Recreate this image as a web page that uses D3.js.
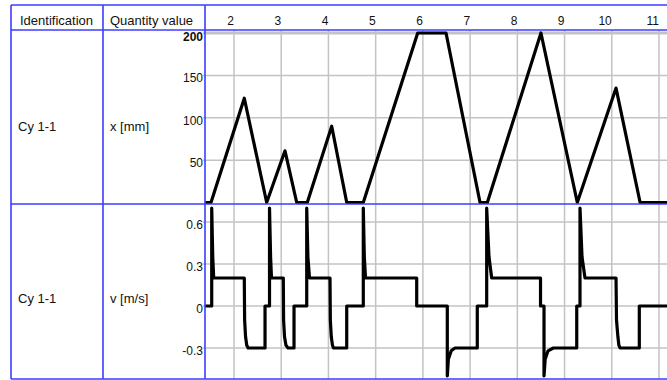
<!DOCTYPE html>
<html><head><meta charset="utf-8">
<script src="https://cdn.jsdelivr.net/npm/d3@7"></script>
<style>html,body{margin:0;padding:0;background:#fff;}svg{display:block;}</style>
</head><body>
<svg id="c" width="667" height="380"></svg>
<script>
// ---- data ----
const headerCols = ["Identification", "Quantity value"];
const rowIds = ["Cy 1-1", "Cy 1-1"];
const rowQuantities = ["x [mm]", "v [m/s]"];
const xTicks = [2, 3, 4, 5, 6, 7, 8, 9, 10, 11];
const posTicks = [50, 100, 150, 200];
const velTicks = [-0.3, 0, 0.3, 0.6];
const velTickLabels = ["-0.3", "0", "0.3", "0.6"];

// position x [mm] : [time, value]
const posT = [1.386, 1.513, 2.218, 2.692, 3.080, 3.328, 3.552, 4.069, 4.387, 4.738, 5.890, 6.490, 7.210, 7.365, 8.500, 9.270, 10.090, 10.600, 11.300];
const posV = [0, 0, 123, 0, 61, 0, 0, 90, 0, 0, 200, 200, 0, 0, 200, 0, 135, 0, 0];

// velocity v [m/s]
const velT = [1.386,1.528,1.528,1.55,1.57,
  2.218,2.225,2.245,2.27,2.30,
  2.657,2.657,2.752,2.752,2.775,2.794,
  3.044,3.05,3.07,3.10,3.144,
  3.271,3.271,3.540,3.540,3.565,3.599,
  4.033,4.04,4.06,4.085,4.107,
  4.387,4.387,4.738,4.738,4.76,4.785,
  5.869,5.869,6.517,6.517,6.54,6.6,6.68,
  7.152,7.152,7.351,7.351,7.40,7.457,
  8.491,8.491,8.565,8.565,8.59,8.65,8.762,
  9.258,9.258,9.327,9.327,9.37,9.433,
  10.09,10.10,10.13,10.15,10.175,
  10.583,10.583,11.3];
const velV = [0,0,0.7,0.35,0.2,
  0.2,-0.1,-0.22,-0.28,-0.3,
  -0.3,0,0,0.7,0.35,0.2,
  0.2,-0.1,-0.22,-0.28,-0.3,
  -0.3,0,0,0.7,0.35,0.2,
  0.2,-0.1,-0.22,-0.28,-0.3,
  -0.3,0,0,0.7,0.35,0.2,
  0.2,0,0,-0.5,-0.38,-0.32,-0.3,
  -0.3,0,0,0.7,0.35,0.2,
  0.2,0,0,-0.5,-0.38,-0.32,-0.3,
  -0.3,0,0,0.7,0.35,0.2,
  0.2,-0.1,-0.22,-0.28,-0.3,
  -0.3,0,0];

// ---- layout ----
const BLUE = "#3d3dff", GRID = "#c3c3c3";
const L = 11, C1 = 103, C2 = 205, R = 667;
const T = 5, H = 30, S = 204, B = 379;

const svg = d3.select("#c");
const x = d3.scaleLinear().domain([2, 11]).range([234, 659]);
const yPos = d3.scaleLinear().domain([0, 200]).range([202.5, 33]);
const yVel = d3.scaleLinear().domain([-0.3, 0.6]).range([348, 222]);

svg.append("defs").append("clipPath").attr("id", "pc")
  .append("rect").attr("x", C2).attr("y", H).attr("width", R - C2).attr("height", B - H);

const grid = svg.append("g");
// vertical grid lines
grid.selectAll("line.v").data(xTicks).enter().append("line")
  .attr("x1", d => x(d)).attr("x2", d => x(d)).attr("y1", H).attr("y2", B)
  .attr("stroke", GRID).attr("stroke-width", 1.5);
// horizontal grids
grid.selectAll("line.hp").data(posTicks).enter().append("line")
  .attr("x1", C2 - 2).attr("x2", R).attr("y1", d => yPos(d)).attr("y2", d => yPos(d))
  .attr("stroke", GRID).attr("stroke-width", d => d === 200 ? 3 : 1.5);
grid.selectAll("line.hv").data(velTicks).enter().append("line")
  .attr("x1", C2 - 2).attr("x2", R).attr("y1", d => yVel(d)).attr("y2", d => yVel(d))
  .attr("stroke", GRID).attr("stroke-width", 1.5);

// data lines
const plot = svg.append("g").attr("clip-path", "url(#pc)");
const posData = posT.map((t, i) => [t, posV[i]]);
const velData = velT.map((t, i) => [t, velV[i]]);
plot.append("path").datum(posData)
  .attr("d", d3.line().x(d => x(d[0])).y(d => yPos(d[1])))
  .attr("fill", "none").attr("stroke", "#000").attr("stroke-width", 3.2).attr("stroke-linejoin", "round");
plot.append("path").datum(velData)
  .attr("d", d3.line().x(d => x(d[0])).y(d => yVel(d[1])))
  .attr("fill", "none").attr("stroke", "#000").attr("stroke-width", 3.2).attr("stroke-linejoin", "round");

// table lines
const tl = svg.append("g").attr("stroke", BLUE).attr("stroke-width", 1.6);
[T, H, S, B].forEach(yy => tl.append("line").attr("x1", L).attr("x2", R).attr("y1", yy).attr("y2", yy));
[L, C1, C2].forEach(xx => tl.append("line").attr("x1", xx).attr("x2", xx).attr("y1", T).attr("y2", B));

// texts
const txt = svg.append("g").attr("font-family", "Liberation Sans, Arial, sans-serif").attr("fill", "#111");
txt.append("text").attr("x", 20).attr("y", 25).attr("font-size", 13).text(headerCols[0]);
txt.append("text").attr("x", 110).attr("y", 25).attr("font-size", 13).text(headerCols[1]);
txt.selectAll("text.xt").data(xTicks).enter().append("text")
  .attr("x", d => x(d)).attr("y", 25).attr("text-anchor", "end").attr("font-size", 12).text(d => d);

const rowBase = [130.5, 303];
rowIds.forEach((s, i) => {
  txt.append("text").attr("x", 18).attr("y", rowBase[i]).attr("font-size", 13).text(s);
  txt.append("text").attr("x", 110).attr("y", rowBase[i]).attr("font-size", 13).text(rowQuantities[i]);
});

txt.selectAll("text.yp").data(posTicks).enter().append("text")
  .attr("x", 203).attr("y", d => yPos(d) + (d === 200 ? 8 : 7)).attr("text-anchor", "end")
  .attr("font-size", 12).attr("font-weight", d => d === 200 ? "bold" : "normal").text(d => d);
txt.selectAll("text.yv").data(velTicks).enter().append("text")
  .attr("x", 203).attr("y", d => yVel(d) + 6.5).attr("text-anchor", "end")
  .attr("font-size", 12).text((d, i) => velTickLabels[i]);
</script>
</body></html>
